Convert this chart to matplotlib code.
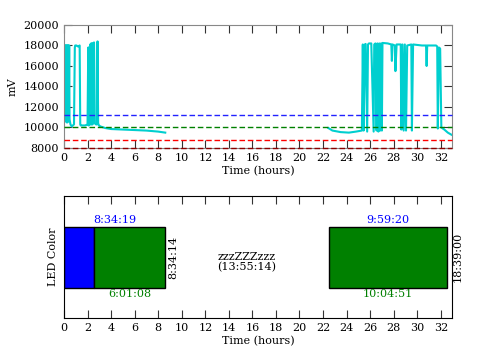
import matplotlib
matplotlib.use('Agg')
import matplotlib.pyplot as plt
import numpy as np

plt.rcParams['font.family'] = 'DejaVu Serif'
plt.rcParams['font.size'] = 8

# battery voltage trace (hours, mV) -- two logging sessions
t1 = [0.05, 0.08, 0.11, 0.14, 0.17, 0.20, 0.23, 0.26, 0.29, 0.32, 0.35, 0.38, 0.41, 0.44, 0.47, 0.55, 0.65, 0.75,
      0.85, 0.92, 0.95, 1.05, 1.2, 1.33, 1.38, 1.42, 1.6, 1.8, 2.0, 2.06, 2.1, 2.14, 2.18, 2.22, 2.26, 2.30,
      2.34, 2.38, 2.42, 2.46, 2.50, 2.55, 2.62, 2.72, 2.80, 2.85, 2.90, 2.97, 3.1, 3.5, 4.0, 5.0, 6.0,
      7.0, 8.0, 8.6]
v1 = [10900, 18000, 10700, 18000, 10600, 18000, 10500, 18000, 10500, 18000, 10600, 18000, 10800, 18000, 10800, 10300, 10100, 10200,
      10300, 17800, 18000, 18000, 17900, 18000, 10300, 10200, 10200, 10200, 10300, 17800, 10200, 17800, 10300, 18100, 10300, 18200,
      10300, 18200, 10300, 18200, 18200, 18300, 10400, 10300, 10300, 18400, 10400, 10200, 10100, 9950, 9850, 9800, 9750,
      9700, 9600, 9500]

t2 = [22.45, 22.8, 23.5, 24.2, 24.8, 25.3, 25.38, 25.45, 25.55, 25.62, 25.75, 25.82, 25.9, 26.1, 26.3, 26.35,
      26.45, 26.55, 26.62, 26.7, 26.78, 26.85, 26.92, 27.0, 27.05, 27.5, 27.8, 27.85, 27.9, 28.1, 28.15, 28.25,
      28.6, 28.65, 28.75, 28.85, 28.95, 29.05, 29.15, 29.5, 29.55, 29.65, 30.4, 30.75, 30.8, 30.85, 31.6, 31.7,
      31.75, 31.85, 31.95, 32.05, 32.3, 32.6, 32.9]
v2 = [9950, 9700, 9550, 9500, 9600, 9700, 18100, 9700, 18100, 18150, 9600, 18100, 18200, 18200, 9600, 18100,
      18200, 9700, 18200, 9600, 18200, 9700, 18200, 9700, 18250, 18200, 18100, 16500, 18100, 18000, 15500, 18100,
      18100, 9800, 18100, 9700, 18100, 9700, 18000, 18100, 9700, 18100, 18000, 18000, 16000, 18000, 18000, 17900,
      9900, 17800, 17700, 10000, 9800, 9500, 9300]

# threshold lines (mV)
thresholds = [11200, 10000, 8800, 8000]
thr_colors = ['#2222ff', 'green', 'red', 'darkred']

# LED color timeline (hours)
bar_left = [0.0, 2.55, 22.49]
bar_width = [2.55, 6.02, 10.08]
bar_colors = ['blue', 'green', 'green']

fig = plt.figure(figsize=(4.98, 3.58), dpi=100)

ax1 = fig.add_axes([0.1285, 0.5866, 0.779, 0.3436])
ax1.plot(t1 + [np.nan] + t2, v1 + [np.nan] + v2, color='#00cfcf', lw=1.5)
for y, c in zip(thresholds, thr_colors):
    ax1.axhline(y, color=c, ls='--', lw=1, dashes=(4, 2), zorder=3, clip_on=False)
ax1.set_xlim(0, 32.95)
ax1.set_ylim(8000, 20000)
ax1.set_xticks(range(0, 33, 2))
ax1.set_yticks(range(8000, 20001, 2000))
ax1.set_xlabel('Time (hours)', labelpad=2)
ax1.set_ylabel('mV')
ax1.tick_params(direction='in', top=True, right=True, length=6, color='#333333')
for s in ax1.spines.values():
    s.set_color('#888888')

ax2 = fig.add_axes([0.1285, 0.1117, 0.779, 0.3408])
ax2.barh(0.5, bar_width, left=bar_left, height=0.5, color=bar_colors,
         edgecolor='black', lw=1)
ax2.set_xlim(0, 32.95)
ax2.set_ylim(0, 1)
ax2.set_xticks(range(0, 33, 2))
ax2.set_yticks([])
ax2.set_xlabel('Time (hours)', labelpad=2)
ax2.set_ylabel('LED Color', labelpad=4)
ax2.tick_params(direction='in', top=True, length=6, color='#333333')

end1 = bar_left[1] + bar_width[1]
end2 = bar_left[2] + bar_width[2]
ax2.text(end1 / 2, 0.8, '8:34:19', color='blue', ha='center', va='center')
ax2.text((bar_left[1] + end1) / 2, 0.2, '6:01:08', color='green', ha='center', va='center')
ax2.text(end1 + 0.3, 0.5, '8:34:14', rotation=90, ha='left', va='center')
ax2.text((end1 + bar_left[2]) / 2, 0.46, 'zzzZZZzzz\n(13:55:14)', ha='center', va='center',
         linespacing=1.0)
ax2.text((bar_left[2] + end2) / 2, 0.8, '9:59:20', color='blue', ha='center', va='center')
ax2.text((bar_left[2] + end2) / 2, 0.2, '10:04:51', color='green', ha='center', va='center')
ax2.text(33.05, 0.5, '18:39:00', rotation=90, ha='left', va='center')

fig.savefig('out.png', dpi=100)
